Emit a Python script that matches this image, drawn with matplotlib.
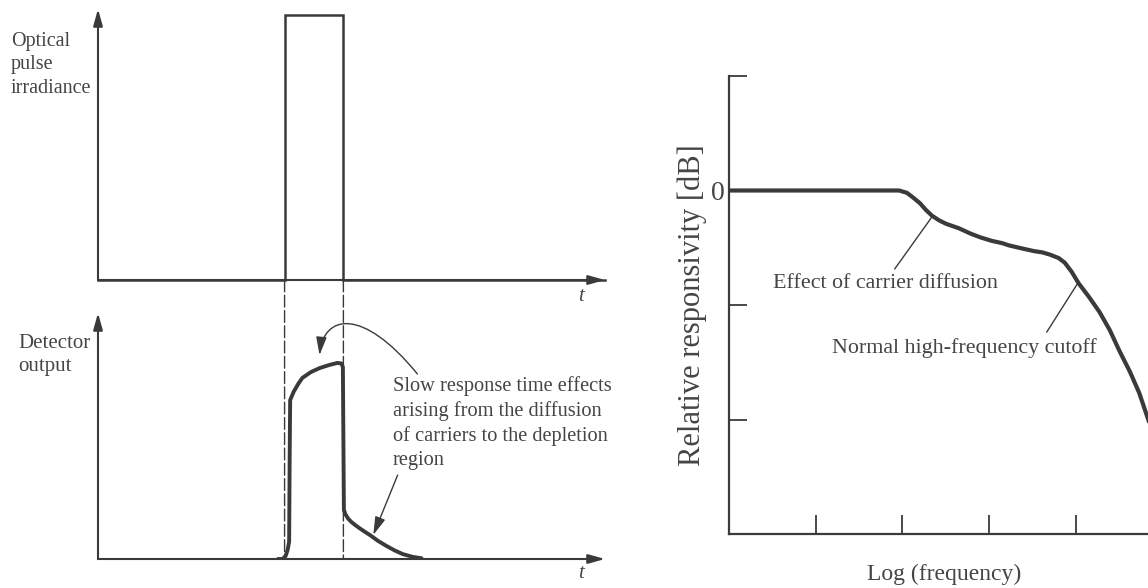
import matplotlib
matplotlib.use("Agg")
import matplotlib.pyplot as plt
from matplotlib.patches import ConnectionPatch, FancyArrowPatch
from matplotlib.path import Path

plt.rcParams['font.family'] = ['Liberation Serif', 'DejaVu Serif']

INK = '#3a3a3a'
TXT = '#454545'

# optical pulse (time in arbitrary units)
pulse_t = [0.0, 3.68, 3.68, 4.84, 4.84, 10.0]
pulse_v = [0.0, 0.0, 0.978, 0.978, 0.0, 0.0]

# detector output
det_t = [3.55, 3.64, 3.70, 3.74, 3.77, 3.78, 3.79, 3.86, 3.95, 4.03, 4.20, 4.37, 4.55, 4.72, 4.80,
         4.83, 4.85, 4.88, 4.93, 5.00, 5.08, 5.16, 5.26, 5.36, 5.52, 5.69, 5.85, 6.01, 6.20, 6.38]
det_v = [0.0, 0.0, 0.012, 0.037, 0.07, 0.40, 0.646, 0.68, 0.712, 0.736, 0.76, 0.776, 0.788, 0.797,
         0.795, 0.78, 0.20, 0.182, 0.165, 0.15, 0.137, 0.125, 0.111, 0.098, 0.074, 0.053, 0.035, 0.02,
         0.009, 0.003]

# frequency response (log frequency, dB)
freq = [0.0, 1.0, 1.96, 2.05, 2.12, 2.20, 2.27, 2.34, 2.42, 2.50, 2.65, 2.78, 2.90, 3.03, 3.15,
        3.23, 3.40, 3.52, 3.61, 3.70, 3.80, 3.87, 3.95, 4.03, 4.15, 4.27, 4.39, 4.50, 4.62, 4.73,
        4.81, 4.90]
resp = [0.0, 0.0, 0.0, -0.02, -0.06, -0.11, -0.17, -0.22, -0.26, -0.29, -0.33, -0.375, -0.41,
        -0.44, -0.46, -0.48, -0.51, -0.53, -0.54, -0.56, -0.59, -0.63, -0.71, -0.81, -0.93, -1.06,
        -1.22, -1.40, -1.58, -1.77, -1.95, -2.15]
freq_ticks = [1, 2, 3, 4]
resp_ticks = [1, 0, -1, -2]
resp_ticklabels = ['', '0', '', '']

W, H = 1148, 588
fig = plt.figure(figsize=(W / 100, H / 100), dpi=100)


def px_axes(left, right, top, bottom):
    return fig.add_axes([left / W, 1 - bottom / H, (right - left) / W, (bottom - top) / H])


def px_text(x, y, s, **kw):
    # place a text by its pixel position (from top-left)
    return fig.text(x / W, 1 - y / H, s, **kw)


def arrow_axes(ax):
    ax.set_axis_off()
    props = dict(arrowstyle='-|>,head_length=0.5,head_width=0.14', mutation_scale=20,
                 lw=1.5, color=INK, shrinkA=0, shrinkB=0)
    ax.annotate('', xy=(1, 0), xytext=(0, 0), xycoords='axes fraction', arrowprops=props)
    ax.annotate('', xy=(0, 1), xytext=(0, 0), xycoords='axes fraction', arrowprops=props)


# top left: optical pulse
ax1 = px_axes(98, 605, 9, 280)
ax1.set_xlim(0, 10)
ax1.set_ylim(0, 1)
arrow_axes(ax1)
ax1.plot(pulse_t, pulse_v, color=INK, lw=1.8, solid_joinstyle='miter', clip_on=False)
px_text(11, 65, 'Optical\npulse\nirradiance', fontsize=14.5, color=TXT, ha='left', va='center',
        linespacing=1.3)
px_text(581, 287, 't', style='italic', fontsize=15, color=TXT, ha='center', va='top')

# bottom left: detector output
ax2 = px_axes(98, 605, 313, 559)
ax2.set_xlim(0, 10)
ax2.set_ylim(0, 1)
arrow_axes(ax2)
ax2.plot(det_t, det_v, color=INK, lw=2.8, solid_capstyle='round', solid_joinstyle='round')
px_text(18, 355, 'Detector\noutput', fontsize=15, color=TXT, ha='left', va='center',
        linespacing=1.31)
px_text(581, 564, 't', style='italic', fontsize=15, color=TXT, ha='center', va='top')
px_text(393, 423, 'Slow response time effects\narising from the diffusion\n'
        'of carriers to the depletion\nregion', fontsize=14.7, color=TXT,
        ha='left', va='center', linespacing=1.33)

head = dict(arrowstyle='-|>,head_length=0.55,head_width=0.16', mutation_scale=20,
            lw=1.0, color=INK, shrinkA=0, shrinkB=0)
curve = Path([(6.30, 0.752), (5.20, 1.03), (4.45, 0.99), (4.37, 0.829)],
             [Path.MOVETO, Path.CURVE4, Path.CURVE4, Path.CURVE4])
ax2.add_patch(FancyArrowPatch(path=curve, transform=ax2.transData, clip_on=False, **head))
ax2.annotate('', xy=(5.43, 0.098), xytext=(5.91, 0.341), arrowprops=head)

# dashed guides from the pulse edges down to the detector trace
for tt in (pulse_t[1], pulse_t[3]):
    con = ConnectionPatch(xyA=(tt, 0), coordsA=ax1.transData, xyB=(tt, 0), coordsB=ax2.transData,
                          color=INK, lw=1.0, linestyle=(0, (8.5, 2.5)))
    fig.add_artist(con)

# right: frequency response
ax3 = px_axes(729, 1148, 76, 534)
ax3.set_xlim(0, 4.83)
ax3.set_ylim(-3, 1)
ax3.plot(freq, resp, color=INK, lw=3.0, solid_capstyle='round', solid_joinstyle='round')
for s in ('top', 'right'):
    ax3.spines[s].set_visible(False)
for s in ('left', 'bottom'):
    ax3.spines[s].set_linewidth(1.6)
    ax3.spines[s].set_color(INK)
ax3.set_xticks(freq_ticks)
ax3.set_xticklabels([])
ax3.set_yticks(resp_ticks)
ax3.set_yticklabels(resp_ticklabels)
ax3.tick_params(axis='x', direction='in', length=14, width=1.3, color=INK)
ax3.tick_params(axis='y', direction='in', length=13, width=1.3, color=INK,
                labelsize=20, labelcolor=TXT, pad=3)
ax3.set_ylabel('Relative responsivity [dB]', fontsize=22, color=TXT, labelpad=3)
ax3.set_xlabel('Log (frequency)', fontsize=17, color=TXT)
ax3.xaxis.set_label_coords(0.514, -0.065)

ax3.annotate('Effect of carrier diffusion', xy=(2.34, -0.23), xytext=(0.51, -0.81),
             fontsize=15.8, color=TXT, ha='left', va='center',
             arrowprops=dict(arrowstyle='-', lw=1.0, color=INK, shrinkA=0, shrinkB=0,
                             relpos=(0.54, 1.25)))
ax3.annotate('Normal high-frequency cutoff', xy=(4.02, -0.81), xytext=(1.19, -1.38),
             fontsize=15.8, color=TXT, ha='left', va='center',
             arrowprops=dict(arrowstyle='-', lw=1.0, color=INK, shrinkA=0, shrinkB=0,
                             relpos=(0.81, 1.32)))

fig.savefig('out.png', dpi=100, facecolor='white')
